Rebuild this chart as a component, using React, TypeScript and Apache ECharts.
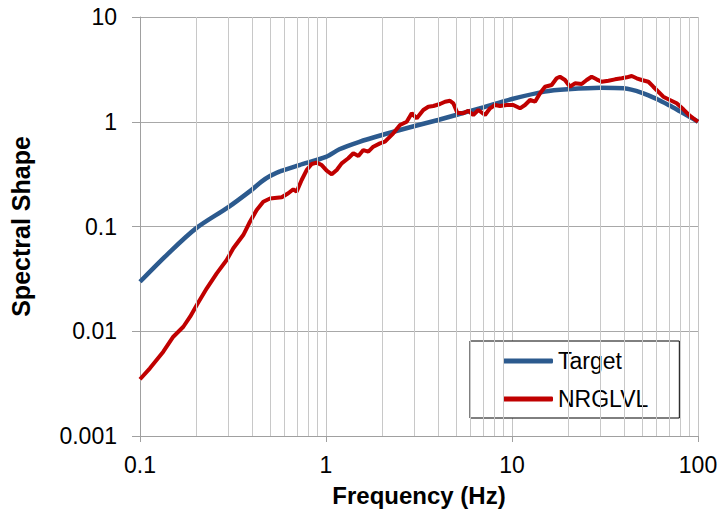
import React, { useEffect, useRef } from "react";
import * as echarts from "echarts";

// Target spectral shape (frequency in Hz, normalised amplitude)
const targetFreq = [0.1, 0.14, 0.2, 0.3, 0.4, 0.45, 0.5, 0.57, 0.72, 1.0, 1.18, 1.5, 2, 3, 4, 5, 7, 10, 15, 20, 30, 40, 50, 60, 70, 80, 90, 100];
const targetValue = [0.0297, 0.054, 0.096, 0.154, 0.225, 0.268, 0.303, 0.338, 0.386, 0.462, 0.546, 0.64, 0.747, 0.91, 1.04, 1.16, 1.374, 1.65, 1.94, 2.04, 2.11, 2.085, 1.89, 1.65, 1.435, 1.258, 1.117, 1.0];

// NRGLVL measured spectral shape
const nrgFreq = [
  0.1, 0.113, 0.1334, 0.151, 0.171, 0.186, 0.202, 0.2286, 0.2585, 0.2924,
  0.3175, 0.359, 0.39, 0.424, 0.46, 0.5, 0.578, 0.627, 0.667, 0.695,
  0.74, 0.787, 0.838, 0.891, 0.948, 1.009, 1.074, 1.142, 1.214, 1.318,
  1.403, 1.493, 1.587, 1.688, 1.796, 1.95, 2.075, 2.3, 2.5, 2.716,
  2.89, 3.075, 3.335, 3.55, 3.776, 4.1, 4.365, 4.64, 4.835, 5.08,
  5.47, 5.82, 6.19, 6.59, 7.16, 7.62, 8.1, 8.62, 9.36, 10.16,
  11.04, 11.75, 12.5, 13.3, 14.15, 15.05, 16.34, 17.38, 18.1, 19.27,
  20.5, 21.8, 23.7, 25.2, 26.8, 28.5, 30.3, 33.0, 35.8, 38.9,
  41.4, 44.0, 46.8, 49.8, 54.1, 57.5, 61.2, 65.1, 70.6, 76.8,
  83.4, 90.6, 100,
];
const nrgValue = [
  0.00348, 0.00443, 0.00638, 0.00887, 0.01104, 0.01377, 0.0178, 0.0257, 0.0357, 0.0479,
  0.0619, 0.0829, 0.111, 0.144, 0.1725, 0.185, 0.19, 0.2075, 0.2265, 0.215,
  0.278, 0.346, 0.395, 0.407, 0.386, 0.341, 0.315, 0.346, 0.401, 0.448,
  0.5, 0.471, 0.537, 0.518, 0.578, 0.622, 0.645, 0.776, 0.931, 1.0,
  1.205, 1.079, 1.295, 1.392, 1.414, 1.477, 1.553, 1.588, 1.5, 1.22,
  1.204, 1.275, 1.16, 1.295, 1.16, 1.344, 1.445, 1.414, 1.445, 1.445,
  1.344, 1.445, 1.613, 1.553, 1.869, 2.16, 2.244, 2.6, 2.69, 2.504,
  2.16, 2.33, 2.293, 2.504, 2.69, 2.54, 2.41, 2.466, 2.54, 2.6,
  2.656, 2.735, 2.6, 2.504, 2.41, 2.16, 1.935, 1.734, 1.613, 1.5,
  1.315, 1.135, 1.0,
];

// Intermediate (2..9 x decade) vertical grid positions
const minorFreqs = [
  0.2, 0.3, 0.4, 0.5, 0.6, 0.7, 0.8, 0.9,
  2, 3, 4, 5, 6, 7, 8, 9,
  20, 30, 40, 50, 60, 70, 80, 90,
];

const FONT = "'Liberation Sans', Arial, sans-serif";

const fmt = (v: number) => String(+Number(v).toPrecision(1));

export default function App() {
  const ref = useRef<HTMLDivElement>(null);

  useEffect(() => {
    document.body.style.margin = "0";
    if (!ref.current) return;
    const chart = echarts.init(ref.current, undefined, { renderer: "svg" });

    const zip = (xs: number[], ys: number[]) => xs.map((x, i) => [x, ys[i]]);

    chart.setOption({
      animation: false,
      grid: { left: 140, right: 23, top: 17, bottom: 80 },
      xAxis: {
        type: "log",
        logBase: 10,
        min: 0.1,
        max: 100,
        axisLine: { show: true, onZero: false, lineStyle: { color: "#a0a0a0", width: 1 } },
        axisTick: { show: true, length: 6, lineStyle: { color: "#a0a0a0" } },
        axisLabel: { margin: 17, fontSize: 23, color: "#000", fontFamily: FONT, formatter: fmt },
        splitLine: { show: true, lineStyle: { color: "#c4c4c4", width: 1 } },
        name: "Frequency (Hz)",
        nameLocation: "middle",
        nameGap: 47,
        nameTextStyle: { fontSize: 24, fontWeight: "bold", color: "#000", fontFamily: FONT },
      },
      yAxis: {
        type: "log",
        logBase: 10,
        min: 0.001,
        max: 10,
        axisLine: { show: true, onZero: false, lineStyle: { color: "#a0a0a0", width: 1 } },
        axisTick: { show: true, length: 8, lineStyle: { color: "#a0a0a0" } },
        axisLabel: { margin: 23, fontSize: 23, color: "#000", fontFamily: FONT, formatter: fmt },
        splitLine: { show: true, lineStyle: { color: "#a8a8a8", width: 1 } },
        name: "Spectral Shape",
        nameLocation: "middle",
        nameGap: 107,
        nameTextStyle: { fontSize: 25, fontWeight: "bold", color: "#000", fontFamily: FONT },
      },
      legend: {
        data: [
          { name: "Target", icon: "roundRect" },
          { name: "NRGLVL", icon: "roundRect" },
        ],
        orient: "vertical",
        left: 470,
        top: 341,
        padding: [8, 31, 7, 33],
        itemWidth: 50,
        itemHeight: 5,
        itemGap: 14,
        borderColor: "#000",
        borderWidth: 1,
        backgroundColor: "#fff",
        textStyle: { fontSize: 23, color: "#000", fontFamily: FONT, lineHeight: 24 },
      },
      series: [
        {
          name: "minor-grid",
          type: "line",
          z: 1,
          silent: true,
          symbol: "none",
          data: [[0.1, 0.001]],
          lineStyle: { width: 0 },
          markLine: {
            silent: true,
            symbol: ["none", "none"],
            label: { show: false },
            emphasis: { disabled: true },
            lineStyle: { color: "#c8c8c8", width: 1, type: "solid" },
            data: minorFreqs.map((f) => ({ xAxis: f })),
          },
        },
        {
          name: "Target",
          type: "line",
          z: 3,
          smooth: 0.3,
          symbol: "none",
          data: zip(targetFreq, targetValue),
          itemStyle: { color: "#2C5A8E" },
          lineStyle: { color: "#2C5A8E", width: 4.5 },
        },
        {
          name: "NRGLVL",
          type: "line",
          z: 4,
          symbol: "none",
          data: zip(nrgFreq, nrgValue),
          itemStyle: { color: "#C00000" },
          lineStyle: { color: "#C00000", width: 4 },
        },
      ],
    });

    return () => chart.dispose();
  }, []);

  return <div ref={ref} style={{ width: 721, height: 516 }} />;
}
